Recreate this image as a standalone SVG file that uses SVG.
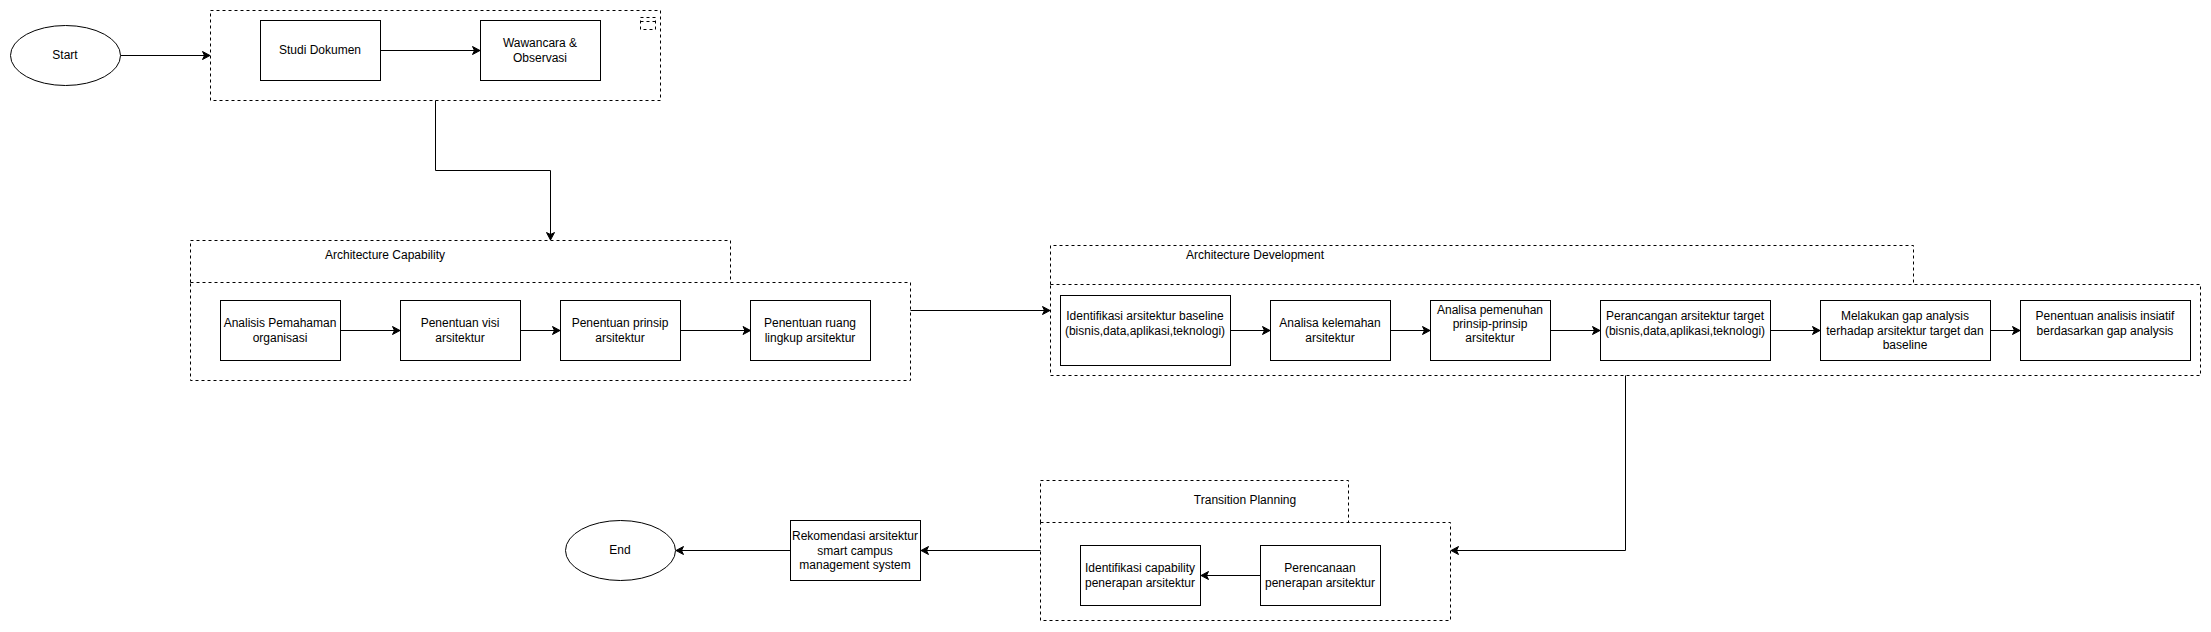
<svg xmlns="http://www.w3.org/2000/svg" width="2211" height="632" viewBox="0 0 2211 632">
<defs>
<marker id="arrow" markerUnits="userSpaceOnUse" markerWidth="12" markerHeight="12" refX="9" refY="5" orient="auto">
<path d="M9,5 L1.5,1 L3.5,5 L1.5,9 Z" fill="#000" stroke="#000"/>
</marker>
<style>
rect,ellipse{fill:#fff;stroke:#000;stroke-width:1}
.g{fill:none;stroke:#000;stroke-dasharray:3 3}
.c{fill:none;stroke:#000;stroke-width:1;marker-end:url(#arrow)}
text{font-family:"Liberation Sans",Arial,Helvetica,sans-serif;font-size:12px;fill:#000;text-anchor:middle}
</style>
</defs>
<rect width="2211" height="632" style="stroke:none"/>
<g id="group-top">
<rect class="g" x="210.5" y="10.5" width="450" height="90"/>
<rect class="g" x="640.5" y="17.5" width="15" height="12"/>
<path class="g" d="M640.5 21.5H655.5"/>
</g>
<g id="group-capability">
<path class="g" d="M190.5 282.5V240.5H730.5V282.5"/>
<rect class="g" x="190.5" y="282.5" width="720" height="98"/>
<text x="385" y="259">Architecture Capability</text>
</g>
<g id="group-development">
<path class="g" d="M1050.5 284.5V245.5H1913.5V284.5"/>
<rect class="g" x="1050.5" y="284.5" width="1150" height="91"/>
<text x="1255" y="259">Architecture Development</text>
</g>
<g id="group-transition">
<path class="g" d="M1040.5 522.5V480.5H1348.5V522.5"/>
<rect class="g" x="1040.5" y="522.5" width="410" height="98"/>
<text x="1245" y="504">Transition Planning</text>
</g>
<g id="connectors">
<path class="c" d="M120.5 55.5H210"/>
<path class="c" d="M380.5 50.5H480"/>
<path class="c" d="M435.5 100.5V170.5H550.5V240"/>
<path class="c" d="M340.5 330.5H400"/>
<path class="c" d="M520.5 330.5H560"/>
<path class="c" d="M680.5 330.5H750.5"/>
<path class="c" d="M910.5 310.5H1050"/>
<path class="c" d="M1230.5 330.5H1270"/>
<path class="c" d="M1390.5 330.5H1430"/>
<path class="c" d="M1550.5 330.5H1600"/>
<path class="c" d="M1770.5 330.5H1820"/>
<path class="c" d="M1990.5 330.5H2020"/>
<path class="c" d="M1625.5 375.5V550.5H1451"/>
<path class="c" d="M1260.5 575.5H1201"/>
<path class="c" d="M1040.5 550.5H921"/>
<path class="c" d="M790.5 550.5H676"/>
</g>
<g id="start"><ellipse cx="65.5" cy="55.5" rx="55" ry="30"/><text x="65" y="59">Start</text></g>
<g id="studi"><rect x="260.5" y="20.5" width="120" height="60"/><text x="320" y="54">Studi Dokumen</text></g>
<g id="wawancara"><rect x="480.5" y="20.5" width="120" height="60"/><text x="540" y="47">Wawancara &amp;</text><text x="540" y="62">Observasi</text></g>
<g id="analisis"><rect x="220.5" y="300.5" width="120" height="60"/><text x="280" y="327">Analisis Pemahaman</text><text x="280" y="342">organisasi</text></g>
<g id="visi"><rect x="400.5" y="300.5" width="120" height="60"/><text x="460" y="327">Penentuan visi</text><text x="460" y="342">arsitektur</text></g>
<g id="prinsip"><rect x="560.5" y="300.5" width="120" height="60"/><text x="620" y="327">Penentuan prinsip</text><text x="620" y="342">arsitektur</text></g>
<g id="ruang"><rect x="750.5" y="300.5" width="120" height="60"/><text x="810" y="327">Penentuan ruang</text><text x="810" y="342">lingkup arsitektur</text></g>
<g id="baseline"><rect x="1060.5" y="295.5" width="170" height="70"/><text x="1145" y="320">Identifikasi arsitektur baseline</text><text x="1145" y="335">(bisnis,data,aplikasi,teknologi)</text></g>
<g id="kelemahan"><rect x="1270.5" y="300.5" width="120" height="60"/><text x="1330" y="327">Analisa kelemahan</text><text x="1330" y="342">arsitektur</text></g>
<g id="pemenuhan"><rect x="1430.5" y="300.5" width="120" height="60"/><text x="1490" y="314">Analisa pemenuhan</text><text x="1490" y="328">prinsip-prinsip</text><text x="1490" y="342">arsitektur</text></g>
<g id="target"><rect x="1600.5" y="300.5" width="170" height="60"/><text x="1685" y="320">Perancangan arsitektur target</text><text x="1685" y="335">(bisnis,data,aplikasi,teknologi)</text></g>
<g id="gap"><rect x="1820.5" y="300.5" width="170" height="60"/><text x="1905" y="320">Melakukan gap analysis</text><text x="1905" y="335">terhadap arsitektur target dan</text><text x="1905" y="349">baseline</text></g>
<g id="inisiatif"><rect x="2020.5" y="300.5" width="170" height="60"/><text x="2105" y="320">Penentuan analisis insiatif</text><text x="2105" y="335">berdasarkan gap analysis</text></g>
<g id="capability"><rect x="1080.5" y="545.5" width="120" height="60"/><text x="1140" y="572">Identifikasi capability</text><text x="1140" y="587">penerapan arsitektur</text></g>
<g id="perencanaan"><rect x="1260.5" y="545.5" width="120" height="60"/><text x="1320" y="572">Perencanaan</text><text x="1320" y="587">penerapan arsitektur</text></g>
<g id="rekomendasi"><rect x="790.5" y="520.5" width="130" height="60"/><text x="855" y="540">Rekomendasi arsitektur</text><text x="855" y="555">smart campus</text><text x="855" y="569">management system</text></g>
<g id="end"><ellipse cx="620.5" cy="550.5" rx="55" ry="30"/><text x="620" y="554">End</text></g>
</svg>
